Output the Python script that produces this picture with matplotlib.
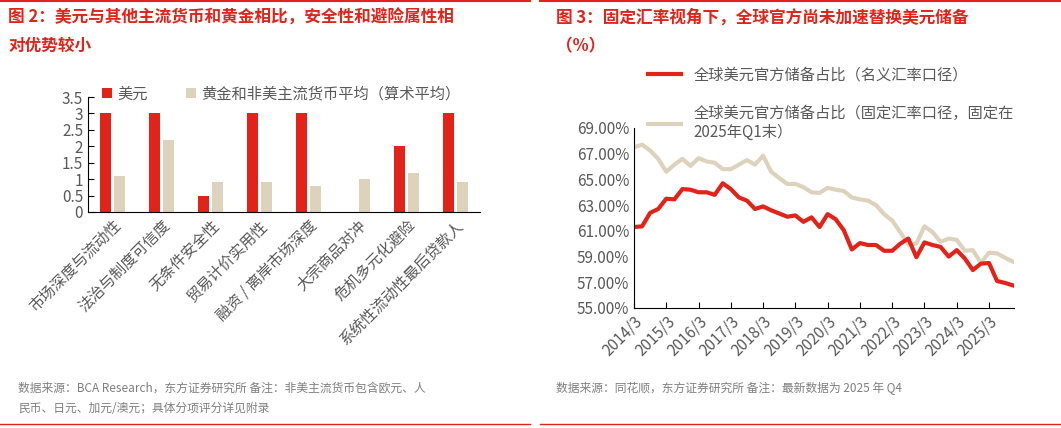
import matplotlib
matplotlib.use("Agg")
import matplotlib.pyplot as plt
from matplotlib.lines import Line2D

plt.rcParams['font.family'] = ['Noto Sans CJK SC', 'DejaVu Sans']

cats = ['市场深度与流动性', '法治与制度可信度', '无条件安全性', '贸易计价实用性',
        '融资 / 离岸市场深度', '大宗商品对冲', '危机多元化避险', '系统性流动性最后贷款人']
usd = [3, 3, 0.5, 3, 3, 0, 2, 3]
other = [1.1, 2.2, 0.9, 0.9, 0.8, 1.0, 1.2, 0.9]

nominal = [61.3, 61.35, 62.4, 62.7, 63.5, 63.45, 64.25, 64.2, 64.0, 64.0, 63.8, 64.7,
           64.25, 63.6, 63.35, 62.7, 62.9, 62.6, 62.35, 62.1, 62.2, 61.7, 62.05, 61.3,
           62.3, 61.9, 61.05, 59.55, 60.05, 59.9, 59.9, 59.45, 59.45, 60.0, 60.4, 58.95,
           60.1, 59.9, 59.75, 59.0, 59.5, 58.85, 57.95, 58.45, 58.5, 57.1, 56.95, 56.75]
fixed = [67.5, 67.7, 67.25, 66.6, 65.6, 66.15, 66.6, 66.05, 66.65, 66.4, 66.3, 65.8,
         65.8, 66.15, 66.5, 66.15, 66.85, 65.6, 65.1, 64.65, 64.65, 64.4, 64.0, 63.95,
         64.35, 64.2, 64.1, 63.6, 63.45, 63.35, 63.0, 62.3, 61.8, 60.9, 59.95, 60.0,
         61.35, 60.9, 60.15, 60.4, 60.3, 59.45, 59.5, 58.5, 59.3, 59.25, 58.9, 58.6]
year_labels = [f'{y}/3' for y in range(2014, 2026)]

RED = '#E2231A'
BEI = '#DDD3BD'
GRAY = '#595959'
W, H = 1061, 428
fig = plt.figure(figsize=(W/100, H/100), dpi=100)

def fx(px): return px / W
def fy(py): return 1 - py / H

for x0, x1 in [(0, 530), (540, 1061)]:
    fig.add_artist(Line2D([fx(x0), fx(x1)], [fy(1), fy(1)], color=RED, lw=1.5))
    fig.add_artist(Line2D([fx(x0), fx(x1)], [fy(424), fy(424)], color=RED, lw=1))

fig.text(fx(8), fy(18), '图 2：美元与其他主流货币和黄金相比，安全性和避险属性相', color=RED,
         fontsize=12, fontweight='bold', va='center')
fig.text(fx(8), fy(46), '对优势较小', color=RED, fontsize=12, fontweight='bold', va='center')
fig.text(fx(556), fy(18), '图 3：固定汇率视角下，全球官方尚未加速替换美元储备', color=RED,
         fontsize=12, fontweight='bold', va='center')
fig.text(fx(556), fy(46), '（%）', color=RED, fontsize=12, fontweight='bold', va='center')

fig.text(fx(18), fy(388), '数据来源：BCA Research，东方证券研究所 备注：非美主流货币包含欧元、人',
         color='#7f7f7f', fontsize=8.5, va='center')
fig.text(fx(18), fy(409), '民币、日元、加元/澳元；具体分项评分详见附录', color='#7f7f7f', fontsize=8.5, va='center')
fig.text(fx(556), fy(388), '数据来源：同花顺，东方证券研究所 备注：最新数据为 2025 年 Q4',
         color='#7f7f7f', fontsize=8.5, va='center')

ax = fig.add_axes([fx(88), fy(212), fx(480 - 88), fy(97) - fy(212)])
x = range(len(cats))
ax.bar([i - 0.15 for i in x], usd, width=0.22, color=RED, label='美元')
ax.bar([i + 0.15 for i in x], other, width=0.22, color=BEI, label='黄金和非美主流货币平均（算术平均）')
ax.set_ylim(0, 3.5)
ax.set_xlim(-0.5, len(cats) - 0.5)
ax.set_yticks([0, 0.5, 1, 1.5, 2, 2.5, 3, 3.5])
ax.set_yticklabels(['0', '0.5', '1', '1.5', '2', '2.5', '3', '3.5'])
ax.set_xticks(list(x))
ax.set_xticklabels(cats, rotation=45, ha='right', rotation_mode='anchor')
ax.tick_params(axis='both', colors=GRAY, labelsize=11, length=0)
ax.tick_params(axis='y', length=4, direction='in', color='black')
for s in ['top', 'right']:
    ax.spines[s].set_visible(False)
ax.legend(loc='upper left', bbox_to_anchor=(0.0, 1.22), ncol=2, frameon=False, fontsize=11,
          handlelength=0.7, handleheight=0.7, columnspacing=2.5, labelcolor=GRAY, handletextpad=0.3)

ax2 = fig.add_axes([fx(634), fy(308), fx(1014 - 634), fy(128) - fy(308)])
t = list(range(len(nominal)))
ax2.plot(t, fixed, color=BEI, lw=3, label='全球美元官方储备占比（固定汇率口径，固定在\n2025年Q1末）')
ax2.plot(t, nominal, color=RED, lw=3, label='全球美元官方储备占比（名义汇率口径）')
ax2.set_ylim(55, 69)
ax2.set_xlim(0, len(nominal) - 0.9)
ax2.set_yticks([55, 57, 59, 61, 63, 65, 67, 69])
ax2.set_yticklabels([f'{v:.2f}%' for v in [55, 57, 59, 61, 63, 65, 67, 69]])
ax2.set_xticks(list(range(0, len(nominal), 4)))
ax2.set_xticklabels(year_labels, rotation=45, ha='right', rotation_mode='anchor')
ax2.tick_params(axis='both', colors=GRAY, labelsize=11)
ax2.tick_params(axis='x', length=4, direction='in', color='black')
ax2.tick_params(axis='y', length=0)
for s in ['top', 'right']:
    ax2.spines[s].set_visible(False)
h, l = ax2.get_legend_handles_labels()
ax2.legend(h[::-1], l[::-1], loc='upper left', bbox_to_anchor=(0.0, 1.42), frameon=False,
           fontsize=11, handlelength=2.2, labelcolor=GRAY, labelspacing=1.4)

fig.savefig('out.png', dpi=100)
